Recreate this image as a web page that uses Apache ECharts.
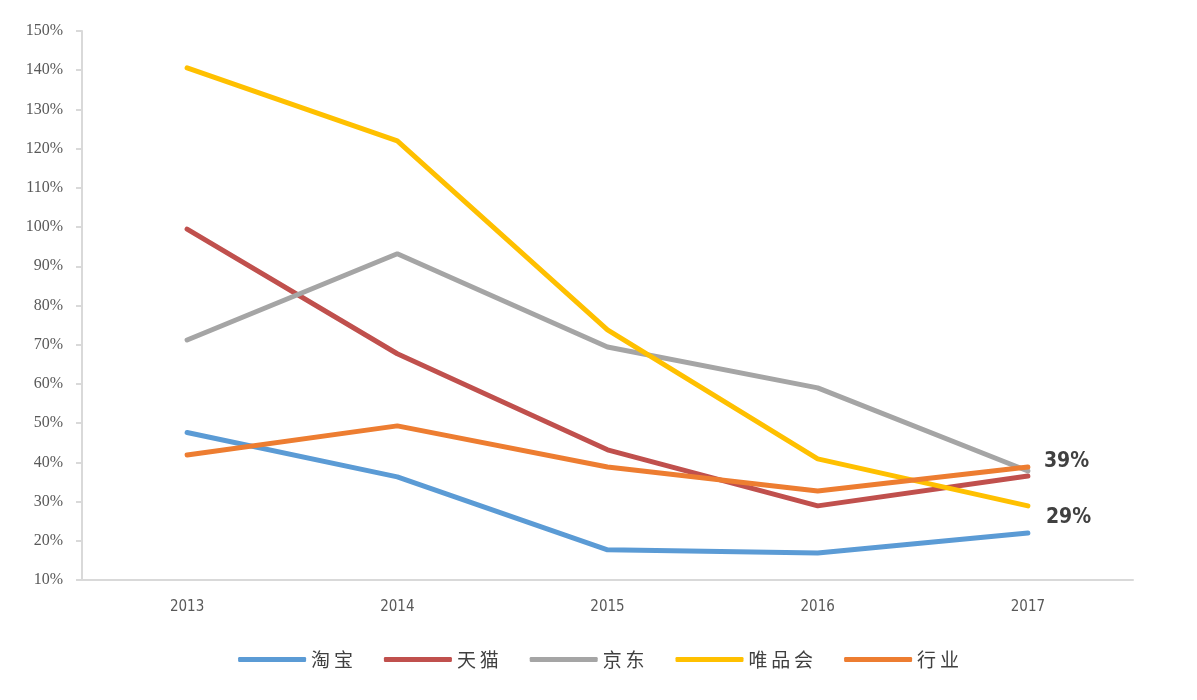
<!DOCTYPE html>
<html><head><meta charset="utf-8">
<script src="https://cdn.jsdelivr.net/npm/echarts@6/dist/echarts.min.js"></script>
<style>html,body{margin:0;padding:0;background:#fff}#c{width:1197px;height:700px}</style>
</head><body><div id="c"></div>
<script>
const categories = ['2013','2014','2015','2016','2017'];
const taobao = [47.6, 36.3, 17.7, 16.9, 22.0];
const tmall = [99.5, 67.7, 43.2, 28.9, 36.5];
const jd = [71.2, 93.2, 69.4, 59.0, 37.8];
const vip = [140.6, 122.0, 73.8, 40.9, 28.9];
const industry = [41.9, 49.3, 38.8, 32.7, 38.8];
const seriesNames = ['淘宝','天猫','京东','唯品会','行业'];
const colors = ['#5B9BD5','#C0504D','#A5A5A5','#FFC000','#ED7D31'];
const endLabels = {'唯品会':'29%','行业':'39%'};

const chart = echarts.init(document.getElementById('c'));
const dataSets = [taobao, tmall, jd, vip, industry];
chart.setOption({
  animation:false,
  grid:{left:82,right:64,top:31,bottom:120},
  legend:{
    bottom:26, left:'center', itemWidth:68, itemHeight:5, itemGap:31,
    icon:'roundRect',
    formatter: n => n.split('').join('\u2009'),
    textStyle:{fontFamily:'Noto Sans CJK SC',fontSize:19,color:'#404040',padding:[0,0,0,0]},
    data:seriesNames
  },
  xAxis:{
    type:'category', data:categories, boundaryGap:true,
    axisLine:{lineStyle:{color:'#D9D9D9',width:2}},
    axisTick:{show:false},
    axisLabel:{margin:20,fontFamily:'DejaVu Sans Condensed',fontSize:15,color:'#595959'}
  },
  yAxis:{
    type:'value', min:10, max:150, interval:10,
    axisLine:{show:true,lineStyle:{color:'#D9D9D9',width:2}},
    axisTick:{show:true,length:6,lineStyle:{color:'#D9D9D9',width:2}},
    splitLine:{show:false},
    axisLabel:{margin:19,formatter:'{value}%',fontFamily:'Liberation Serif',fontSize:16,color:'#595959'}
  },
  series: seriesNames.map((n,i)=>({
    name:n, type:'line', data:dataSets[i], symbol:'none',
    lineStyle:{width:5,color:colors[i],cap:'round'}, itemStyle:{color:colors[i]},
    endLabel: endLabels[n] ? {show:true, formatter:endLabels[n], distance:14,
      fontFamily:'DejaVu Sans Condensed', fontSize:21, color:'#404040', fontWeight:'bold',
      offset: n==='行业'?[2,-6]:[4,12]} : {show:false}
  }))
});
</script></body></html>
